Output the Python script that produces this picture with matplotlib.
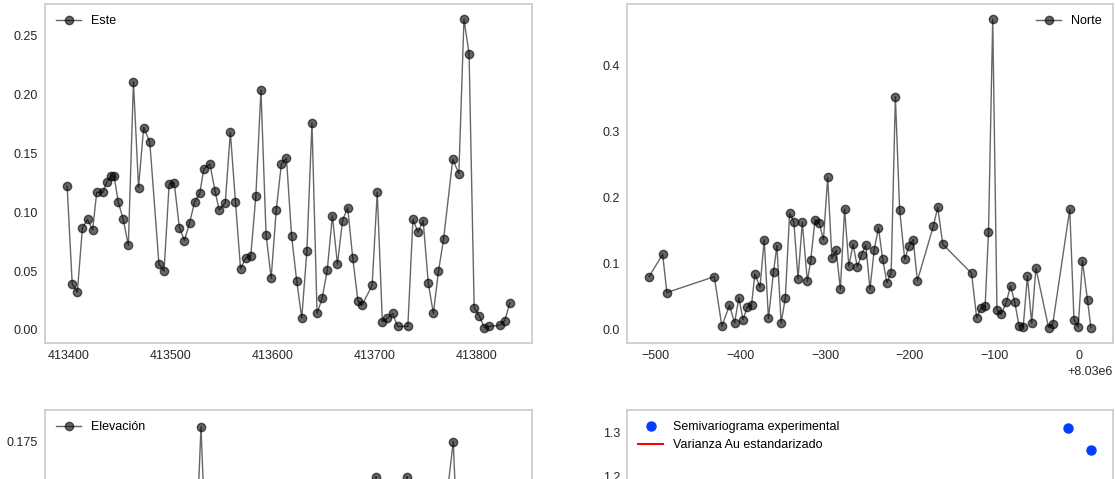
import matplotlib
matplotlib.use('Agg')
import matplotlib.pyplot as plt

# --- datos ---
este_x = [413399, 413404, 413409, 413414, 413419, 413424, 413428, 413434, 413438, 413442,
          413445, 413449, 413454, 413459, 413464, 413469, 413474, 413480, 413489, 413494,
          413499, 413504, 413509, 413514, 413519, 413524, 413529, 413533, 413539, 413544,
          413548, 413554, 413559, 413564, 413569, 413574, 413579, 413584, 413589, 413594,
          413599, 413604, 413609, 413614, 413619, 413624, 413629, 413634, 413639, 413644,
          413649, 413654, 413659, 413664, 413669, 413674, 413679, 413684, 413688, 413698,
          413703, 413708, 413713, 413718, 413723, 413733, 413738, 413743, 413748, 413753,
          413758, 413763, 413768, 413777, 413783, 413788, 413793, 413798, 413803, 413808,
          413813, 413823, 413828, 413833]
este_y = [0.122, 0.039, 0.032, 0.087, 0.094, 0.085, 0.117, 0.117, 0.126, 0.131,
          0.131, 0.109, 0.094, 0.072, 0.211, 0.121, 0.172, 0.160, 0.056, 0.050,
          0.124, 0.125, 0.087, 0.076, 0.091, 0.109, 0.116, 0.137, 0.141, 0.118,
          0.102, 0.108, 0.168, 0.109, 0.052, 0.061, 0.063, 0.114, 0.204, 0.081,
          0.044, 0.102, 0.141, 0.146, 0.080, 0.042, 0.010, 0.067, 0.176, 0.014,
          0.027, 0.051, 0.097, 0.056, 0.093, 0.104, 0.061, 0.025, 0.021, 0.038,
          0.117, 0.007, 0.010, 0.014, 0.003, 0.003, 0.094, 0.083, 0.093, 0.040,
          0.014, 0.050, 0.077, 0.145, 0.133, 0.264, 0.235, 0.019, 0.012, 0.002,
          0.003, 0.004, 0.008, 0.023]

norte_off = [-508, -492, -487, -431, -422, -413, -407, -402, -397, -392,
             -387, -383, -377, -372, -367, -361, -357, -352, -347, -342,
             -337, -332, -327, -321, -317, -312, -307, -302, -297, -292,
             -287, -282, -277, -272, -267, -262, -257, -252, -247, -242,
             -237, -232, -227, -222, -217, -212, -206, -201, -196, -191,
             -172, -167, -161, -127, -121, -116, -111, -107, -102, -97,
             -92, -86, -81, -76, -71, -66, -61, -56, -51, -36,
             -31, -11, -6, -1, 4, 10, 14]
norte_x = [8030000 + v for v in norte_off]
norte_y = [0.080, 0.114, 0.056, 0.080, 0.005, 0.037, 0.010, 0.048, 0.015, 0.034,
           0.037, 0.084, 0.064, 0.136, 0.017, 0.087, 0.127, 0.010, 0.048, 0.176,
           0.163, 0.077, 0.162, 0.073, 0.105, 0.166, 0.161, 0.136, 0.230, 0.108,
           0.120, 0.061, 0.182, 0.096, 0.129, 0.095, 0.113, 0.128, 0.061, 0.121,
           0.154, 0.106, 0.071, 0.086, 0.352, 0.181, 0.106, 0.126, 0.136, 0.074,
           0.157, 0.185, 0.129, 0.085, 0.018, 0.032, 0.035, 0.147, 0.469, 0.030,
           0.023, 0.041, 0.066, 0.042, 0.006, 0.004, 0.081, 0.010, 0.093, 0.003,
           0.009, 0.182, 0.015, 0.004, 0.104, 0.044, 0.003]

# Elevacion: solo la parte superior es visible, el resto es estimado
elev_x = [0, 10, 20, 30, 40, 50, 60, 70, 80, 90, 100, 110, 120, 130, 140, 150,
          160, 170, 180, 190, 200, 210, 220, 230, 240, 250, 260, 270, 280, 290,
          300, 310, 320, 330, 340, 350, 360, 375, 385, 395, 405, 415, 425, 430]
elev_y = [0.060, 0.045, 0.080, 0.070, 0.095, 0.050, 0.088, 0.102, 0.064, 0.040,
          0.075, 0.098, 0.030, 0.184, 0.025, 0.070, 0.105, 0.085, 0.055, 0.092,
          0.120, 0.068, 0.045, 0.082, 0.110, 0.090, 0.060, 0.035, 0.078, 0.100,
          0.154, 0.065, 0.090, 0.154, 0.070, 0.040, 0.095, 0.175, 0.030, 0.010,
          0.020, 0.008, 0.015, 0.005]

lags = [25, 50, 75, 100, 125, 150, 175, 200, 225, 250,
        275, 300, 325, 350, 375, 400, 425, 450, 475, 500]
gamma = [0.62, 0.70, 0.78, 0.84, 0.90, 0.93, 0.97, 1.00, 1.02, 1.05,
         1.03, 1.07, 1.10, 1.08, 1.12, 1.15, 1.13, 1.18, 1.31, 1.26]
varianza = 1.0

plt.rcParams.update({
    'font.family': ['Liberation Sans', 'DejaVu Sans'],
    'font.size': 9,
    'axes.edgecolor': '#cccccc',
    'axes.linewidth': 1.25,
    'axes.grid': False,
    'xtick.major.size': 0,
    'ytick.major.size': 0,
    'xtick.major.pad': 5,
    'ytick.major.pad': 5,
    'xtick.color': '#262626',
    'ytick.color': '#262626',
    'legend.frameon': False,
})

W, H = 1115, 479
fig = plt.figure(figsize=(W / 100, H / 100), dpi=100)


def box(left, top, width, height):
    return [left / W, 1 - (top + height) / H, width / W, height / H]


ax1 = fig.add_axes(box(45, 4, 487, 339))
ax2 = fig.add_axes(box(627, 4, 486, 339))
# fila inferior: queda cortada por el borde de la imagen, como en el original
ax3 = fig.add_axes(box(45, 410, 487, 339))
ax4 = fig.add_axes(box(627, 410, 486, 339))

style = dict(color='black', alpha=0.6, marker='o', markersize=6, linewidth=1)
ax1.plot(este_x, este_y, label='Este', **style)
ax1.legend(loc='upper left')
ax2.plot(norte_x, norte_y, label='Norte', **style)
ax2.legend(loc='upper right')

ax3.plot(elev_x, elev_y, label='Elevación', **style)
ax3.set_yticks([0.175])
ax3.set_ylim(-0.0093, 0.194)
ax3.tick_params(labelbottom=False)
ax3.legend(loc='upper left')

ax4.plot(lags, gamma, 'o', color='#023eff', markersize=6.5,
         label='Semivariograma experimental')
ax4.axhline(varianza, color='red', linewidth=1.5, label='Varianza Au estandarizado')
ax4.set_ylim(0.58, 1.35)
ax4.set_yticks([1.2, 1.3])
ax4.tick_params(labelbottom=False)
ax4.legend(loc='upper left')

fig.savefig('out.png', dpi=100)
